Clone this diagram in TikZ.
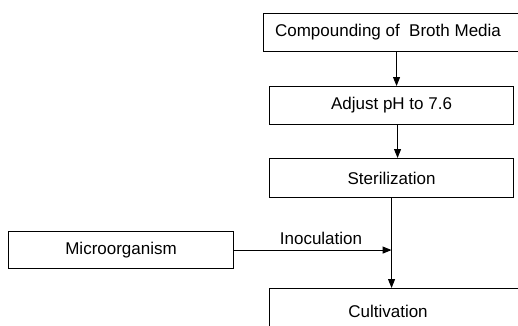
\documentclass[tikz,border=0pt]{standalone}
\usepackage{fontspec}
\setmainfont{Liberation Sans}
\usetikzlibrary{arrows.meta}
\begin{document}
\begin{tikzpicture}[x=1pt,y=1pt,
  every node/.style={font=\fontsize{17}{20}\selectfont},
  procbox/.style={draw, line width=1.1pt, inner sep=0pt, minimum height=38pt},
  conn/.style={line width=1pt},
  arr/.style={conn, -{Triangle[length=9pt,width=7pt]}},
  lbl/.style={inner sep=0pt}]
\useasboundingbox (0,0) rectangle (518,-325);
\clip (0,0) rectangle (518,-325);
% boxes
\node[procbox, anchor=north west, minimum width=300pt] (b1) at (263,-13) {};
\node[lbl] (t1) at (388,-32) {Compounding of~~Broth Media};
\node[procbox, anchor=north west, minimum width=244pt] (b2) at (269,-86) {Adjust pH to 7.6};
\node[procbox, anchor=north west, minimum width=244pt, minimum height=39pt] (b3) at (269,-158) {Sterilization};
\node[procbox, anchor=north west, minimum width=225pt, minimum height=37pt] (b4) at (8,-231) {Microorganism};
\node[procbox, anchor=north west, minimum width=300pt, minimum height=60pt] (b5) at (269,-288) {};
\node[lbl] (t5) at (388,-311) {Cultivation};
% connectors
\draw[arr] ([xshift=5pt]b2.north |- b1.south) -- ([xshift=5pt]b2.north);
\draw[arr] ([xshift=6pt]b3.north |- b2.south) -- ([xshift=6pt]b3.north);
\draw[arr] (b3.south) -- (b3.south |- b5.north);
\coordinate (j) at (b3.south |- b4.east);
\draw[arr] (b4.east) -- (j);
\node[lbl, anchor=south] (t6) at (321,-245) {Inoculation};
\end{tikzpicture}
\end{document}
